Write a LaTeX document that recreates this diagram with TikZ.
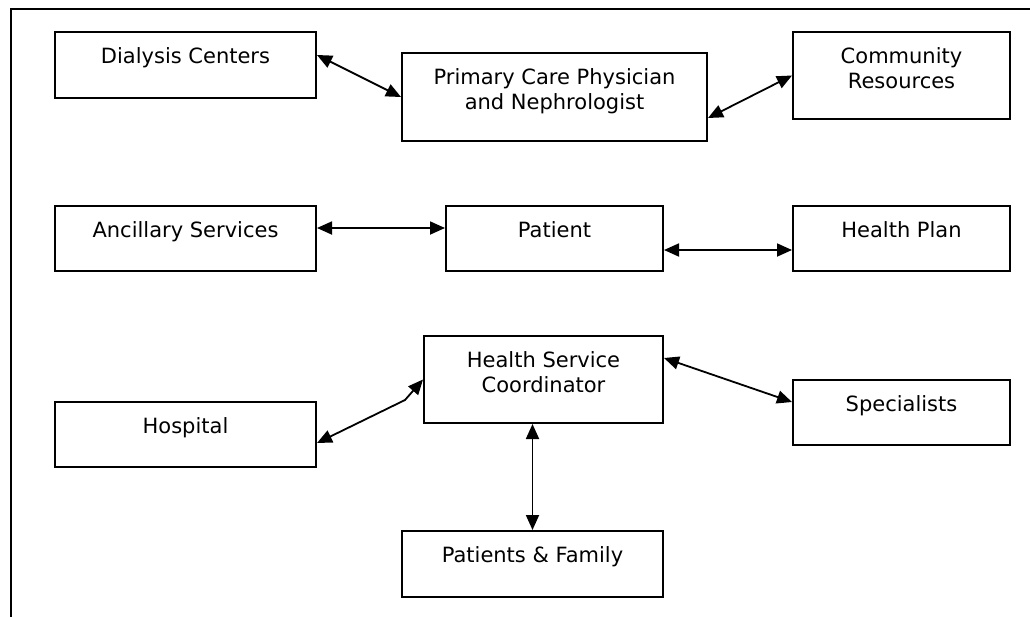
\documentclass[tikz,border=0pt]{standalone}
\usepackage{fontspec}
\setmainfont{DejaVu Sans}
\usetikzlibrary{arrows.meta}
\tikzset{
	party/.style={draw, line width=2pt, inner sep=0pt},
	caption/.style={anchor=north, yshift=-16pt, inner sep=0pt, align=center,
			font=\fontsize{21pt}{25pt}\selectfont},
	link/.style={<->, line width=1.8pt}
}

\begin{document}
\begin{tikzpicture}[x=1pt, y=-1pt, >={Triangle[length=15pt,width=13pt]}]
		\useasboundingbox (0,0) rectangle (1030,616);
		% Frame
		\draw[line width=2pt] (11,620) -- (11,9) -- (1034,9);

		% Top row
		\node[party, minimum width=261pt, minimum height=66pt,
			label={[caption]north:Dialysis Centers}] (dialysis) at (185.5,65) {};
		\node[party, minimum width=305pt, minimum height=88pt,
			label={[caption]north:{Primary Care Physician\\and Nephrologist}}] (primary) at (554.5,97) {};
		\node[party, minimum width=217pt, minimum height=87pt,
			label={[caption]north:{Community\\Resources}}] (community) at (901.5,75.5) {};

		% Middle row
		\node[party, minimum width=261pt, minimum height=65pt,
			label={[caption]north:Ancillary Services}] (ancillary) at (185.5,238.5) {};
		\node[party, minimum width=217pt, minimum height=65pt,
			label={[caption]north:Patient}] (patient) at (554.5,238.5) {};
		\node[party, minimum width=217pt, minimum height=65pt,
			label={[caption]north:Health Plan}] (healthplan) at (901.5,238.5) {};

		% Bottom part
		\node[party, minimum width=239pt, minimum height=87pt,
			label={[caption]north:{Health Service\\Coordinator}}] (hsc) at (543.5,379.5) {};
		\node[party, minimum width=261pt, minimum height=65pt,
			label={[caption]north:Hospital}] (hospital) at (185.5,434.5) {};
		\node[party, minimum width=217pt, minimum height=65pt,
			label={[caption]north:Specialists}] (specialists) at (901.5,412.5) {};
		\node[party, minimum width=261pt, minimum height=66pt,
			label={[caption]north:Patients \& Family}] (family) at (532.5,564) {};

		% Links
		\draw[link] ([yshift=10pt]dialysis.east) -- (primary.west);
		\draw[link] ([yshift=-21pt]primary.east) -- (community.west);
		\draw[link] ([yshift=10.5pt]ancillary.east) -- ([yshift=10.5pt]patient.west);
		\draw[link] ([yshift=-11.5pt]patient.east) -- ([yshift=-11.5pt]healthplan.west);
		\coordinate (kink) at (405,400);
		\draw[link] ([yshift=-8.5pt]hospital.east) -- (kink) -- (hsc.west);
		\draw[link] ([yshift=21.5pt]hsc.east) -- ([yshift=10.5pt]specialists.west);
		\draw[link] (hsc.south -| family.north) -- (family.north);
	\end{tikzpicture}
\end{document}
